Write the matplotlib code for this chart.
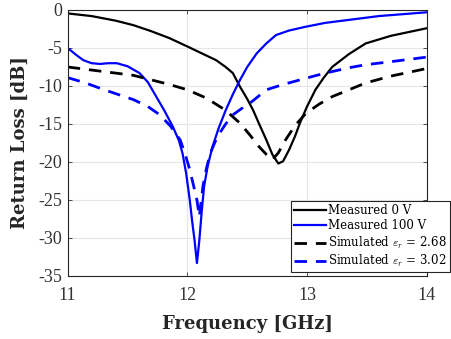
import matplotlib
matplotlib.use('Agg')
import matplotlib.pyplot as plt

# Measured 0 V
f_m0 = [11.0, 11.2, 11.4, 11.55, 11.7, 11.85, 12.0, 12.12, 12.24, 12.32, 12.38, 12.44, 12.5, 12.55, 12.6, 12.66, 12.71, 12.76, 12.8, 12.85, 12.9, 12.94, 13.0, 13.07, 13.14, 13.21, 13.35, 13.49, 13.7, 14.0]
s_m0 = [-0.45, -0.8, -1.4, -2.0, -2.8, -3.7, -4.8, -5.7, -6.6, -7.5, -8.3, -10.1, -11.7, -13.2, -15.0, -17.1, -19.0, -20.2, -19.9, -18.4, -16.6, -14.9, -12.7, -10.5, -8.9, -7.5, -5.8, -4.4, -3.4, -2.4]

# Measured 100 V
f_m100 = [11.0, 11.07, 11.13, 11.2, 11.27, 11.34, 11.41, 11.5, 11.6, 11.67, 11.74, 11.81, 11.88, 11.93, 11.96, 11.99, 12.02, 12.04, 12.06, 12.08, 12.1, 12.12, 12.14, 12.17, 12.21, 12.26, 12.32, 12.38, 12.44, 12.5, 12.58, 12.66, 12.74, 12.85, 12.99, 13.15, 13.35, 13.6, 14.0]
s_m100 = [-5.0, -5.9, -6.6, -7.0, -7.1, -7.0, -7.0, -7.4, -8.3, -9.5, -11.4, -13.3, -15.4, -17.2, -18.9, -21.5, -25.0, -27.8, -30.3, -33.3, -30.3, -26.5, -23.2, -20.5, -18.0, -15.6, -13.2, -11.1, -9.2, -7.5, -5.7, -4.4, -3.3, -2.7, -2.2, -1.7, -1.3, -0.8, -0.3]

# Simulated eps_r = 2.68
f_s1 = [11.0, 11.2, 11.4, 11.55, 11.7, 11.85, 12.0, 12.16, 12.32, 12.44, 12.52, 12.6, 12.66, 12.71, 12.76, 12.82, 12.9, 12.99, 13.1, 13.21, 13.35, 13.49, 13.7, 14.0]
s_s1 = [-7.5, -7.9, -8.3, -8.6, -9.2, -9.8, -10.5, -11.6, -13.2, -14.9, -16.4, -18.0, -19.0, -19.7, -18.8, -17.1, -15.2, -13.6, -12.4, -11.4, -10.5, -9.6, -8.7, -7.7]

# Simulated eps_r = 3.02
f_s2 = [11.0, 11.15, 11.27, 11.4, 11.55, 11.67, 11.77, 11.86, 11.94, 11.98, 12.02, 12.05, 12.08, 12.1, 12.13, 12.16, 12.19, 12.23, 12.27, 12.32, 12.38, 12.45, 12.52, 12.66, 12.8, 12.94, 13.08, 13.21, 13.35, 13.49, 13.7, 14.0]
s_s2 = [-8.9, -9.6, -10.3, -11.0, -11.8, -12.7, -13.8, -15.3, -17.1, -18.9, -21.0, -23.0, -25.0, -27.2, -23.2, -20.8, -18.9, -17.4, -16.2, -15.0, -13.8, -13.0, -12.3, -10.5, -9.8, -9.2, -8.6, -8.1, -7.6, -7.2, -6.8, -6.2]

xticks = [11, 12, 13, 14]
yticks = [0, -5, -10, -15, -20, -25, -30, -35]

plt.rcParams['mathtext.fontset'] = 'cm'

fig = plt.figure(figsize=(4.51, 3.39), dpi=100)
ax = fig.add_axes([67.7 / 451, 1 - 276 / 339, (426.7 - 67.7) / 451, (276 - 10) / 339])

ax.plot(f_m0, s_m0, color='black', lw=1.6, label='Measured 0 V')
ax.plot(f_m100, s_m100, color='#0000ff', lw=1.6, label='Measured 100 V')
ax.plot(f_s1, s_s1, color='black', lw=2.0, dashes=(4.5, 3.2), label=r'Simulated $\varepsilon_r$ = 2.68')
ax.plot(f_s2, s_s2, color='#0000ff', lw=2.0, dashes=(4.5, 3.2), label=r'Simulated $\varepsilon_r$ = 3.02')

ax.set_xlim(11, 14)
ax.set_ylim(-35, 0)
ax.set_xticks(xticks)
ax.set_yticks(yticks)
ax.set_xticklabels([str(t) for t in xticks])
ax.set_yticklabels([str(t) for t in yticks])
ax.tick_params(direction='in', length=3, width=0.6, labelsize=13, colors='#333333',
               top=True, right=True, pad=4)
ax.tick_params(axis='x', pad=8)
for lab in ax.get_xticklabels() + ax.get_yticklabels():
    lab.set_family('Liberation Serif')
ax.grid(True, color='#e6e6e6', lw=0.8)
ax.set_axisbelow(True)
for sp in ax.spines.values():
    sp.set_linewidth(0.8)
    sp.set_color('#262626')

ax.set_xlabel('Frequency [GHz]', fontsize=13, fontweight='bold', family='DejaVu Serif', color='#262626', labelpad=8)
ax.set_ylabel('Return Loss [dB]', fontsize=13, fontweight='bold', family='DejaVu Serif', color='#262626', labelpad=7)

leg = fig.legend(loc='upper right', bbox_to_anchor=(450 / 451, 138 / 339),
                 fancybox=False, framealpha=1, edgecolor='#262626',
                 prop={'family': 'DejaVu Serif', 'size': 8.5}, handlelength=2.7, handletextpad=0.2,
                 borderaxespad=0, borderpad=0.25, labelspacing=0.2)
leg.get_frame().set_linewidth(0.8)

fig.savefig('out.png', dpi=100)
